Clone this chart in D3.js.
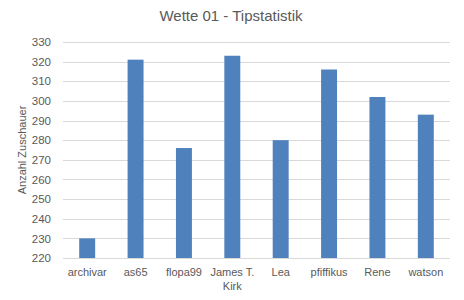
<!DOCTYPE html>
<html><head><meta charset="utf-8">
<script src="https://cdn.jsdelivr.net/npm/d3@7"></script>
<style>body{margin:0;background:#fff}svg{display:block}</style>
</head><body>
<script>
const categories = ["archivar","as65","flopa99","James T. Kirk","Lea","pfiffikus","Rene","watson"];
const values = [230,321,276,323,280,316,302,293];
const yTicks = [220,230,240,250,260,270,280,290,300,310,320,330];
const title = "Wette 01 - Tipstatistik";
const yLabel = "Anzahl Zuschauer";

const W=464,H=300;
const m={left:63,right:14,top:42,bottom:42};
const svg=d3.select("body").append("svg").attr("width",W).attr("height",H);
const font="'Liberation Sans', Arial, sans-serif";
const x=d3.scaleBand().domain(categories).range([m.left,W-m.right]).paddingInner(0.67).paddingOuter(0.335);
const y=d3.scaleLinear().domain([220,330]).range([H-m.bottom,m.top]);

svg.append("g").selectAll("line").data(yTicks).join("line")
  .attr("x1",m.left).attr("x2",W-m.right)
  .attr("y1",d=>Math.round(y(d))+0.5).attr("y2",d=>Math.round(y(d))+0.5)
  .attr("stroke","#d9d9d9").attr("stroke-width",1);

svg.append("g").selectAll("rect").data(values).join("rect")
  .attr("x",(d,i)=>x(categories[i])).attr("width",x.bandwidth())
  .attr("y",d=>y(d)).attr("height",d=>y(220)-y(d))
  .attr("fill","#4f81bd");

const ya=d3.axisLeft(y).tickValues(yTicks).tickSize(0).tickPadding(12);
const gy=svg.append("g").attr("transform",`translate(${m.left},0)`).call(ya);
gy.select(".domain").remove();
gy.selectAll("text").attr("font-family",font).attr("font-size",11.5).attr("fill","#595959");

const xa=d3.axisBottom(x).tickSize(0).tickPadding(10);
const gx=svg.append("g").attr("transform",`translate(0,${H-m.bottom})`).call(xa);
gx.select(".domain").remove();
gx.selectAll("text").attr("font-family",font).attr("font-size",11).attr("fill","#595959")
  .each(function(d){
    const t=d3.select(this);
    if(d==="James T. Kirk"){
      t.text(null);
      t.append("tspan").attr("x",0).attr("dy","0.71em").text("James T.");
      t.append("tspan").attr("x",0).attr("dy","1.3em").text("Kirk");
      t.attr("dy",null);
    }
  });

svg.append("text").attr("x",231).attr("y",21).attr("text-anchor","middle")
  .attr("font-family",font).attr("font-size",15).attr("fill","#595959").text(title);

svg.append("text").attr("transform",`translate(26,${(m.top+H-m.bottom)/2}) rotate(-90)`)
  .attr("text-anchor","middle").attr("font-family",font).attr("font-size",11)
  .attr("fill","#595959").text(yLabel);
</script>
</body></html>
